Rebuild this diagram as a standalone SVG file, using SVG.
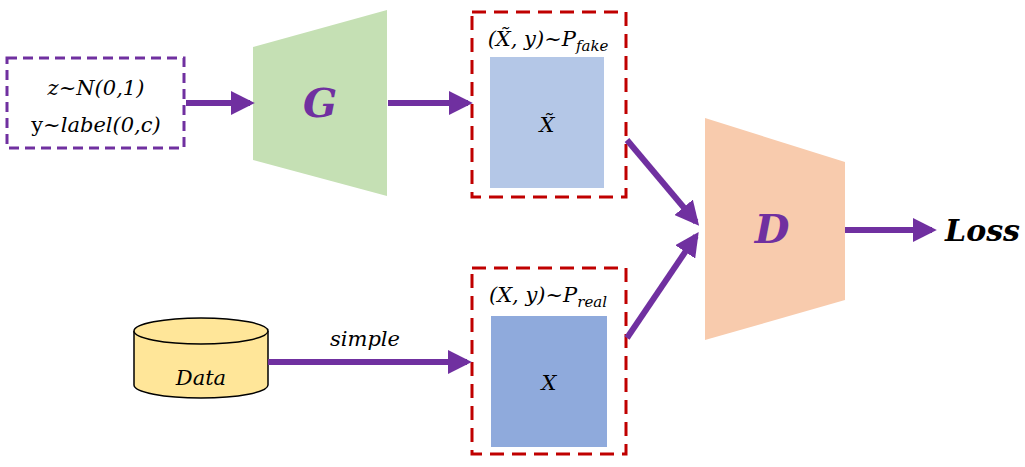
<svg xmlns="http://www.w3.org/2000/svg" width="1025" height="467" viewBox="0 0 1025 467">
<style>
text{font-family:"DejaVu Serif","Liberation Serif",serif;fill:#000}
.m{font-style:italic;font-size:21px}
.big{font-style:italic;font-weight:bold;font-size:40px;fill:#7030A0}
.red{fill:none;stroke:#C00000;stroke-width:3;stroke-dasharray:14,8}
.c{fill:none;stroke:#7030A0;stroke-width:6;marker-end:url(#a)}
</style>
<defs><marker id="a" markerWidth="4" markerHeight="4" refX="3.2" refY="2" orient="auto"><path d="M0,0L4,2L0,4z" fill="#7030A0"/></marker></defs>
<rect width="1025" height="467" fill="#fff"/>
<g id="input"><rect x="7" y="58" width="177" height="90" fill="none" stroke="#7030A0" stroke-width="3" stroke-dasharray="10,6"/>
<text x="96" y="95" class="m" text-anchor="middle">z~N(0,1)</text>
<text x="96" y="132" class="m" text-anchor="middle"><tspan font-style="normal">y~</tspan>label(0,c)</text></g>
<g id="G"><polygon points="253,47 387,10 387,196 253,160" fill="#C5E0B4"/><text x="320" y="117" class="big" text-anchor="middle">G</text></g>
<g id="fake"><rect x="472" y="12" width="154" height="185" class="red"/><rect x="490" y="57" width="114" height="131" fill="#B4C7E7"/>
<text x="548" y="46" class="m" text-anchor="middle">(X̃, y)~P<tspan font-size="15" dy="5">fake</tspan></text>
<text x="547" y="132" class="m" text-anchor="middle">X̃</text></g>
<g id="real"><rect x="472" y="268" width="154" height="186" class="red"/><rect x="491" y="316" width="116" height="131" fill="#8FAADC"/>
<text x="548" y="302" class="m" text-anchor="middle">(X, y)~P<tspan font-size="15" dy="5">real</tspan></text>
<text x="549" y="390" class="m" text-anchor="middle">X</text></g>
<g id="D"><polygon points="705,118 845,162 845,300 705,340" fill="#F8CBAD"/><text x="772" y="243" class="big" text-anchor="middle">D</text></g>
<g id="data"><path d="M134,331 V385 A67,13 0 0 0 268,385 V331" fill="#FFE699" stroke="#000" stroke-width="1.5"/>
<ellipse cx="201" cy="331" rx="67" ry="13" fill="#FFE699" stroke="#000" stroke-width="1.5"/>
<text x="201" y="385" class="m" text-anchor="middle" font-size="23">Data</text></g>
<text x="1020" y="241" text-anchor="end" font-style="italic" font-weight="bold" font-size="30">Loss</text>
<text x="365" y="346" class="m" text-anchor="middle" font-size="23">simple</text>
<g id="connectors">
<line x1="186" y1="103" x2="250" y2="103" class="c"/>
<line x1="388" y1="103" x2="468" y2="103" class="c"/>
<line x1="627" y1="140" x2="696" y2="222" class="c"/>
<line x1="627" y1="338" x2="696" y2="236" class="c"/>
<line x1="845" y1="230" x2="932" y2="230" class="c"/>
<line x1="268" y1="362" x2="467" y2="362" class="c"/>
</g>
</svg>
